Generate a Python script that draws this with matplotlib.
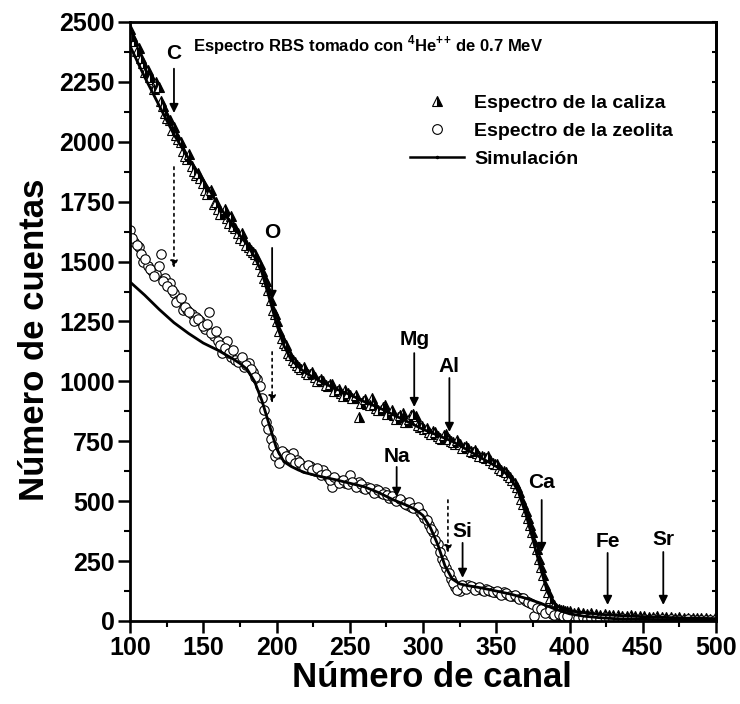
"""Espectro RBS de caliza y zeolita con simulación."""
import matplotlib
matplotlib.use('Agg')
import matplotlib.pyplot as plt
import numpy as np
from matplotlib.lines import Line2D
from matplotlib.ticker import MultipleLocator, NullFormatter

plt.rcParams['font.family'] = ['Liberation Sans', 'DejaVu Sans']
plt.rcParams['font.weight'] = 'bold'
plt.rcParams['mathtext.fontset'] = 'custom'
plt.rcParams['mathtext.rm'] = 'Liberation Sans:bold'
plt.rcParams['mathtext.bf'] = 'Liberation Sans:bold'

# canal de cada punto medido
channels = np.arange(100, 500, 3)
channels_mid = np.arange(101.5, 400, 3)

# espectro de la caliza (triángulos)
caliza = [
    2470, 2420, 2390, 2330, 2300, 2260, 2250, 2170, 2120, 2090,
    2060, 2010, 1960, 1930, 1900, 1860, 1850, 1800, 1790, 1740,
    1720, 1700, 1680, 1690, 1640, 1600, 1590, 1560, 1540, 1510,
    1460, 1420, 1340, 1280, 1210, 1160, 1120, 1090, 1070, 1050,
    1040, 1030, 1020, 1000, 1000, 980, 990, 960, 950, 965,
    945, 930, 850, 920, 905, 930, 890, 880, 900, 870,
    860, 850, 870, 830, 860, 855, 810, 800, 790, 795,
    770, 760, 780, 750, 740, 740, 725, 720, 705, 700,
    690, 680, 670, 655, 640, 625, 610, 590, 560, 510,
    460, 400, 330, 260, 190, 120, 70, 55, 45, 42,
    40, 35, 38, 32, 30, 34, 28, 27, 30, 25,
    24, 26, 22, 21, 24, 20, 19, 21, 18, 17,
    19, 16, 18, 15, 14, 16, 13, 12, 14, 12,
    11, 13, 10, 11,
]
caliza_mid = [
    2440, 2380, 2350, 2290, 2270, 2220, 2230, 2150, 2100, 2050,
    2030, 2000, 1940, 1950, 1880, 1870, 1830, 1780, 1800, 1750,
    1700, 1720, 1660, 1650, 1620, 1620, 1570, 1550, 1530, 1490,
    1430, 1380, 1300, 1250, 1180, 1150, 1110, 1080, 1060, 1060,
    1030, 1040, 1000, 1010, 985, 990, 960, 970, 940, 950,
    930, 945, 910, 925, 900, 905, 880, 895, 865, 880,
    845, 860, 830, 845, 865, 820, 815, 805, 780, 790,
    765, 775, 760, 745, 755, 720, 730, 710, 715, 690,
    685, 690, 660, 655, 630, 620, 600, 575, 540, 490,
    430, 370, 300, 225, 150, 95, 65, 50, 44, 40,
]

# espectro de la zeolita (círculos)
zeolita = [
    1630, 1580, 1560, 1500, 1480, 1460, 1450, 1530, 1430, 1410,
    1370, 1340, 1300, 1300, 1280, 1270, 1250, 1220, 1290, 1190,
    1170, 1120, 1170, 1100, 1090, 1085, 1060, 1075, 1040, 1010,
    930, 830, 760, 690, 660, 700, 680, 700, 670, 650,
    640, 645, 625, 620, 630, 600, 560, 590, 580, 575,
    610, 570, 580, 555, 560, 545, 550, 535, 540, 515,
    510, 505, 495, 485, 475, 470, 455, 430, 400, 370,
    320, 260, 220, 175, 140, 125, 140, 150, 140, 135,
    130, 135, 125, 120, 115, 120, 110, 105, 100, 95,
    85, 75, 20, 60, 45, 40, 30, 20, 25, 18,
    15, 20, 12, 18, 10, 14, 12, 9, 15, 8,
    10, 7, 12, 8, 6, 9, 7, 10, 5, 8,
    6, 7, 5, 8, 4, 6, 5, 7, 4, 6,
    5, 4, 6, 4,
]
zeolita_mid = [
    1600, 1570, 1530, 1510, 1470, 1440, 1480, 1420, 1400, 1380,
    1330, 1350, 1310, 1290, 1250, 1260, 1230, 1240, 1200, 1210,
    1150, 1140, 1120, 1130, 1080, 1100, 1070, 1050, 1020, 980,
    880, 800, 730, 700, 710, 690, 680, 660, 665, 640,
    650, 630, 640, 610, 615, 590, 600, 575, 590, 570,
    580, 560, 570, 550, 555, 535, 545, 530, 525, 520,
    500, 510, 490, 495, 470, 475, 445, 420, 385, 340,
    290, 240, 200, 160, 130, 150, 135, 145, 130, 140,
    125, 130, 120, 125, 110, 115, 105, 110, 90, 95,
    80, 70, 55, 50, 35, 45, 25, 30, 20, 22,
]

# simulaciones
sim_caliza_x = [100, 110, 120, 130, 140, 150, 160, 170, 180, 185, 190, 195,
                200, 205, 210, 215, 220, 230, 240, 250, 260, 270, 280, 290,
                300, 310, 320, 330, 340, 350, 355, 360, 365, 370, 375, 380,
                385, 390, 395, 400, 410, 420, 430, 440, 450, 460, 470, 480,
                490, 500]
sim_caliza_y = [2400, 2270, 2150, 2030, 1930, 1840, 1740, 1650, 1570, 1520,
                1455, 1350, 1240, 1150, 1090, 1060, 1035, 1000, 970, 945,
                915, 890, 860, 830, 800, 775, 750, 715, 680, 645, 625, 595,
                540, 450, 340, 225, 120, 70, 50, 42, 35, 28, 24, 21, 18, 16,
                14, 12, 11, 10]

sim_zeolita_x = [100, 110, 120, 130, 140, 150, 160, 170, 175, 180, 185, 190,
                 195, 200, 205, 210, 215, 220, 230, 240, 250, 260, 270, 280,
                 290, 295, 300, 305, 310, 315, 320, 325, 330, 340, 350, 360,
                 370, 380, 390, 400, 410, 420, 430, 440, 460, 480, 500]
sim_zeolita_y = [1415, 1360, 1300, 1245, 1200, 1160, 1130, 1095, 1075, 1050,
                 1000, 920, 820, 720, 665, 645, 630, 618, 603, 590, 575, 560,
                 535, 505, 480, 465, 440, 390, 320, 230, 175, 155, 148, 138,
                 125, 112, 95, 75, 50, 30, 20, 14, 10, 8, 6, 5, 4]

# elementos: nombre, canal, altura del texto, inicio y punta de la flecha
elements = [
    ('C', 130, 2370, 2305, 2120),
    ('O', 197, 1620, 1557, 1340),
    ('Mg', 294, 1175, 1118, 893),
    ('Al', 318, 1062, 1014, 789),
    ('Na', 282, 687, 643, 518),
    ('Si', 327, 373, 326, 180),
    ('Ca', 381, 578, 505, 288),
    ('Fe', 426, 332, 284, 67),
    ('Sr', 464, 340, 288, 67),
]
# flechas punteadas: canal, inicio, punta
dotted = [(130, 1895, 1473), (197, 1123, 910), (317, 505, 284)]

fig = plt.figure(figsize=(7.4, 7.04), dpi=100)
ax = fig.add_axes([0.1757, 0.1179, 0.7919, 0.8509])

tri_style = dict(linestyle='none', marker='^', markersize=7.5, fillstyle='right',
                 markerfacecolor='black', markerfacecoloralt='white',
                 markeredgecolor='black', markeredgewidth=0.8)
circ_style = dict(linestyle='none', marker='o', markersize=6.8,
                  markerfacecolor='white', markeredgecolor='black',
                  markeredgewidth=0.8)
ax.plot(channels, caliza, **tri_style)
ax.plot(channels_mid, caliza_mid, **tri_style)
ax.plot(channels, zeolita, **circ_style)
ax.plot(channels_mid, zeolita_mid, **circ_style)
ax.plot(sim_caliza_x, sim_caliza_y, color='black', lw=2)
ax.plot(sim_zeolita_x, sim_zeolita_y, color='black', lw=2)

for name, x, ty, y0, y1 in elements:
    ax.text(x, ty, name, ha='center', va='center', fontsize=15, fontweight='bold')
    ax.annotate('', xy=(x, y1), xytext=(x, y0),
                arrowprops=dict(arrowstyle='-|>', color='black', lw=1.3,
                                mutation_scale=13, shrinkA=0, shrinkB=0))
for x, y0, y1 in dotted:
    ax.annotate('', xy=(x, y1), xytext=(x, y0),
                arrowprops=dict(arrowstyle='-|>', color='black', lw=1.2,
                                linestyle=(0, (1.5, 2.5)), mutation_scale=11,
                                shrinkA=0, shrinkB=0))

ax.text(143, 2404, r'Espectro RBS tomado con $^{\mathbf{4}}$He$^{+}$$^{+}$ de 0.7 MeV',
        ha='left', va='center', fontsize=12, fontweight='bold')

handles = [
    Line2D([], [], **dict(tri_style, markersize=7)),
    Line2D([], [], **dict(circ_style, markersize=7)),
    Line2D([], [], color='black', lw=1.8, marker='.', markersize=3),
]
labels = ['Espectro de la caliza', 'Espectro de la zeolita', 'Simulación']
ax.legend(handles, labels, loc='upper left', bbox_to_anchor=(0.448, 0.908),
          frameon=False, handlelength=2.8, handletextpad=0.5,
          labelspacing=0.52, numpoints=1, prop={'weight': 'bold', 'size': 14})

ax.set_xlim(100, 500)
ax.set_ylim(0, 2500)
ax.xaxis.set_major_locator(MultipleLocator(50))
ax.xaxis.set_minor_locator(MultipleLocator(25))
ax.yaxis.set_major_locator(MultipleLocator(250))
ax.yaxis.set_minor_locator(MultipleLocator(125))

for side in ax.spines.values():
    side.set_linewidth(2)
ax.tick_params(which='major', direction='out', length=8.5, width=1.8,
               labelsize=18, pad=2.5)
ax.tick_params(which='minor', direction='out', length=4.5, width=1.5)
for lbl in ax.get_xticklabels() + ax.get_yticklabels():
    lbl.set_fontweight('bold')

# marcas cortas hacia dentro en el eje derecho
right = ax.secondary_yaxis('right')
right.yaxis.set_major_locator(MultipleLocator(125))
right.yaxis.set_major_formatter(NullFormatter())
right.tick_params(direction='in', length=3, width=1.5)
right.spines['right'].set_linewidth(2)

ax.set_xlabel('Número de canal', fontsize=25, fontweight='bold')
ax.set_ylabel('Número de cuentas', fontsize=25, fontweight='bold')
ax.xaxis.set_label_coords(0.515, -0.067)
ax.yaxis.set_label_coords(-0.135, 0.47)

fig.savefig('out.png', dpi=100)
